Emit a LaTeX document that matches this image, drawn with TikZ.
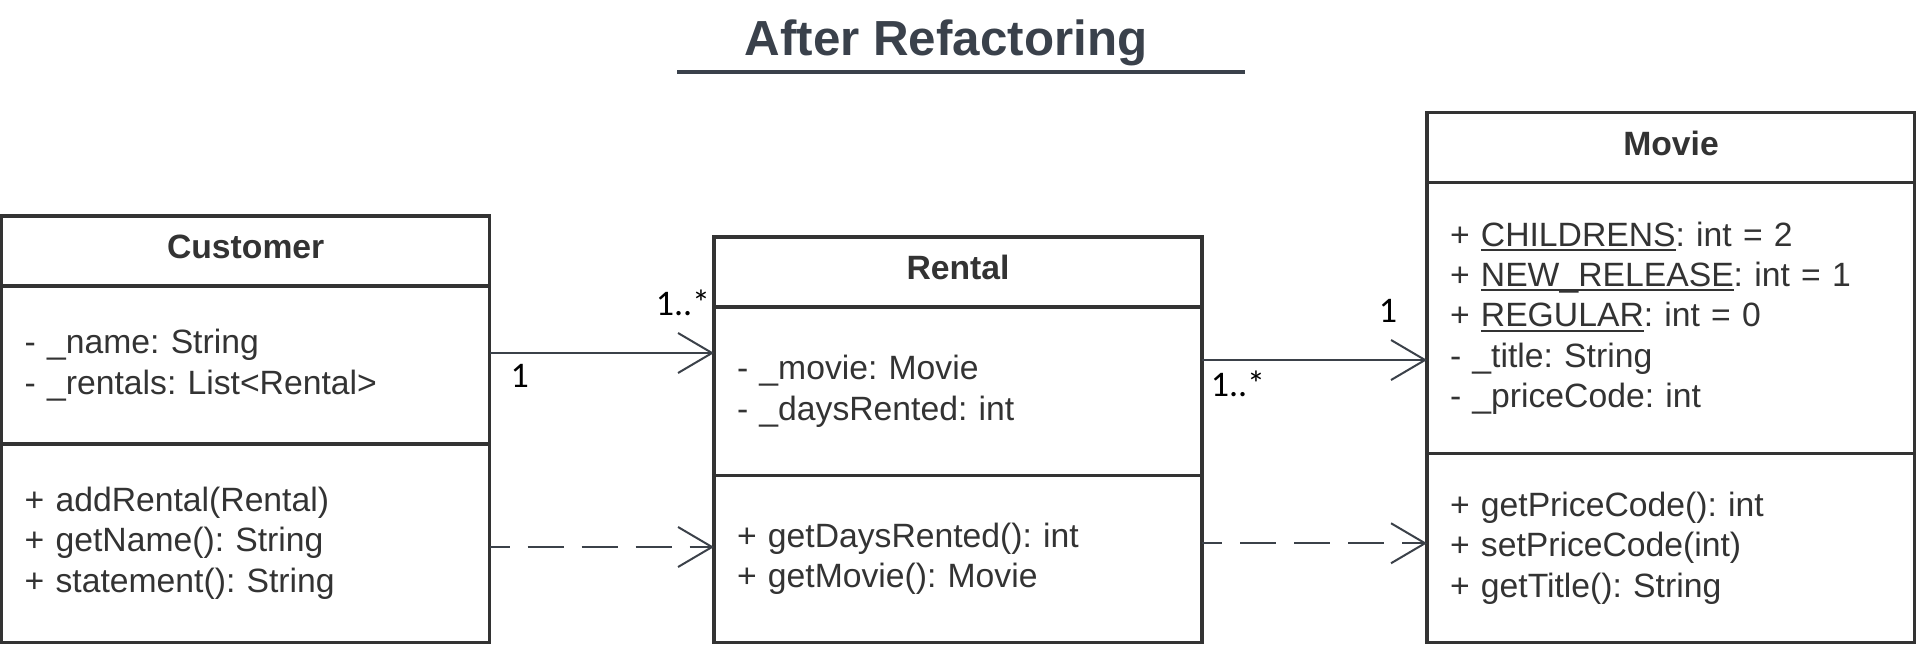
\documentclass[tikz,border=0pt]{standalone}
\usepackage{fontspec}
\setmainfont{Liberation Sans}
\newfontfamily\multfont{Carlito}
\usepackage{tikz}
\usetikzlibrary{arrows.meta,positioning}
\frenchspacing
\definecolor{boxline}{HTML}{333333}
\definecolor{conn}{HTML}{3B4149}
\definecolor{titlecol}{HTML}{3A414B}
\newcommand{\partfont}{\fontsize{33.7pt}{40.3pt}\selectfont}
\newcommand{\headfont}{\fontsize{33.7pt}{40.3pt}\selectfont\bfseries}
\tikzstyle{Ahead}=[draw=boxline,line width=3.5pt,outer sep=0pt,inner sep=0pt,minimum width=488pt,minimum height=70pt,anchor=north west,text height=24pt,text depth=9pt,font=\headfont,text=boxline]
\tikzstyle{Apart}=[draw=boxline,line width=3.5pt,outer sep=0pt,inner xsep=23pt,inner ysep=0pt,text width=442pt,minimum width=488pt,align=left,font=\partfont,text=boxline]
\tikzstyle{aR}=[draw=conn,line width=2pt,-{Straight Barb[length=34pt,width=40pt]}]
\tikzstyle{dR}=[aR,dash pattern=on 36pt off 18pt,dash phase=16pt]
\tikzstyle{Amult}=[font=\multfont\fontsize{36pt}{42pt}\selectfont,inner sep=0pt]
\newcommand{\svar}[1]{\setbox0\hbox{#1}\rlap{\rule[-0.15em]{\wd0}{0.06em}}#1}
\newcommand{\umlbox}[7]{\node[Ahead] (#1) at (#2) {#3};\node[Apart,below=0pt of #1,minimum height=#4] (#1A) {#5};\node[Apart,below=0pt of #1A,minimum height=#6] (#1M) {#7};}
\begin{document}
\begin{tikzpicture}[x=1pt,y=-1pt]
  \useasboundingbox (0,0) rectangle (1916,645);
  \node[font=\fontsize{49.3pt}{59pt}\selectfont\bfseries,text=titlecol,anchor=base,inner sep=0pt] (title) at (946,55) {After Refactoring};
  \draw[titlecol,line width=4pt] (677,72) -- (1245,72);
  % classes
  \umlbox{cust}{1.7,216}{Customer}{158pt}{- \_name: String\\- \_rentals: List<Rental>}{198.5pt}{+ addRental(Rental)\\+ getName(): String\\+ statement(): String}
  \umlbox{rent}{714,237}{Rental}{168.5pt}{- \_movie: Movie\\- \_daysRented: int}{167pt}{+ getDaysRented(): int\\+ getMovie(): Movie}
  \umlbox{mov}{1427,112.5}{Movie}{271pt}{+ \svar{CHILDRENS}: int = 2\\+ \svar{NEW\_RELEASE}: int = 1\\+ \svar{REGULAR}: int = 0\\- \_title: String\\- \_priceCode: int}{189pt}{+ getPriceCode(): int\\+ setPriceCode(int)\\+ getTitle(): String}
  % links
  \coordinate (cr1) at ([yshift=12pt]custA.east);
  \coordinate (cr2) at (cr1 -| rentA.west);
  \coordinate (cd1) at ([yshift=-3.75pt]custM.east);
  \coordinate (cd2) at (cd1 -| rentM.west);
  \coordinate (rm1) at ([yshift=31.25pt]rentA.east);
  \coordinate (rm2) at (rm1 -| movA.west);
  \coordinate (rd1) at ([yshift=15.75pt]rentM.east);
  \coordinate (rd2) at (rd1 -| movM.west);
  \draw[aR] (cr1) -- (cr2);
  \draw[dR] (cd1) -- (cd2);
  \draw[aR] (rm1) -- (rm2);
  \draw[dR] (rd1) -- (rd2);
  \node[Amult] (cr1m) at ([xshift=30pt,yshift=-23pt]cr1) {1};
  \node[Amult] (cr2m) at ([xshift=-31pt,yshift=50pt]cr2) {1..*};
  \node[Amult] (rm1m) at ([xshift=36pt,yshift=-24pt]rm1) {1..*};
  \node[Amult] (rm2m) at ([xshift=-39pt,yshift=49pt]rm2) {1};
\end{tikzpicture}
\end{document}
